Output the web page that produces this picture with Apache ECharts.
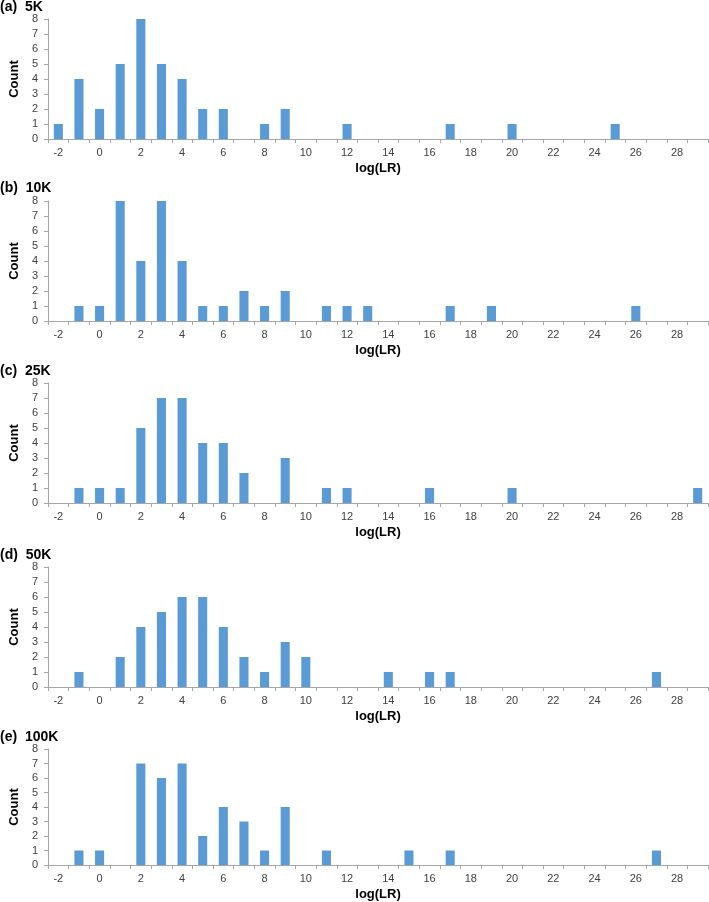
<!DOCTYPE html>
<html>
<head>
<meta charset="utf-8">
<script src="https://cdn.jsdelivr.net/npm/echarts@6/dist/echarts.min.js"></script>
<style>html,body{margin:0;padding:0;background:#fff;}#c{width:709px;height:902px;}</style>
</head>
<body>
<div id="c"></div>
<script>
const categories = [];
for (let v = -2; v <= 29; v++) categories.push(String(v));

const panelTitles = ['(a)  5K', '(b)  10K', '(c)  25K', '(d)  50K', '(e)  100K'];

// counts for log(LR) = -2 .. 29
const counts5K   = [1,4,2,5,8,5,4,2,2,0,1,2,0,0,1,0,0,0,0,1,0,0,1,0,0,0,0,1,0,0,0,0];
const counts10K  = [0,1,1,8,4,8,4,1,1,2,1,2,0,1,1,1,0,0,0,1,0,1,0,0,0,0,0,0,1,0,0,0];
const counts25K  = [0,1,1,1,5,7,7,4,4,2,0,3,0,1,1,0,0,0,1,0,0,0,1,0,0,0,0,0,0,0,0,1];
const counts50K  = [0,1,0,2,4,5,6,6,4,2,1,3,2,0,0,0,1,0,1,1,0,0,0,0,0,0,0,0,0,1,0,0];
const counts100K = [0,1,1,0,7,6,7,2,4,3,1,4,0,1,0,0,0,1,0,1,0,0,0,0,0,0,0,0,0,1,0,0];

const seriesData = [counts5K, counts10K, counts25K, counts50K, counts100K];

const gridTops = [19, 201, 383, 567, 749];
const titleTops = [0, 181, 364, 548, 730];
const plotH = 120;

const chart = echarts.init(document.getElementById('c'), null, {renderer: 'canvas'});
const font = 'Liberation Sans, Arial, sans-serif';

const option = {
  animation: false,
  backgroundColor: '#ffffff',
  title: panelTitles.map((t, i) => ({
    text: t, left: 0, top: titleTops[i], padding: 0,
    textStyle: {fontFamily: font, fontSize: 14, fontWeight: 'bold', color: '#000'}
  })),
  grid: gridTops.map(t => ({left: 47, right: 1, top: t, height: plotH, containLabel: false})),
  xAxis: gridTops.map((t, i) => ({
    type: 'category', gridIndex: i, data: categories,
    boundaryGap: true,
    name: 'log(LR)', nameLocation: 'middle', nameGap: 23,
    nameTextStyle: {fontFamily: font, fontSize: 13, fontWeight: 'bold', color: '#000'},
    axisLine: {lineStyle: {color: '#a6a6a6', width: 1}},
    axisTick: {show: true, interval: 0, length: 4, lineStyle: {color: '#a6a6a6'}},
    axisLabel: {interval: 1, fontFamily: font, fontSize: 11, color: '#404040', margin: 8},
    splitLine: {show: false}
  })),
  yAxis: gridTops.map((t, i) => ({
    type: 'value', gridIndex: i, min: 0, max: 8, interval: 1,
    name: 'Count', nameLocation: 'middle', nameGap: 22, nameRotate: 90,
    nameTextStyle: {fontFamily: font, fontSize: 13, fontWeight: 'bold', color: '#000'},
    axisLine: {show: true, lineStyle: {color: '#a6a6a6', width: 1}},
    axisTick: {show: true, length: 4, lineStyle: {color: '#a6a6a6'}},
    axisLabel: {fontFamily: font, fontSize: 11, color: '#404040', margin: 10},
    splitLine: {show: false}
  })),
  series: seriesData.map((d, i) => ({
    type: 'bar', xAxisIndex: i, yAxisIndex: i, data: d,
    barWidth: '44%',
    itemStyle: {color: '#5b9bd5'}
  }))
};
chart.setOption(option);
</script>
</body>
</html>
